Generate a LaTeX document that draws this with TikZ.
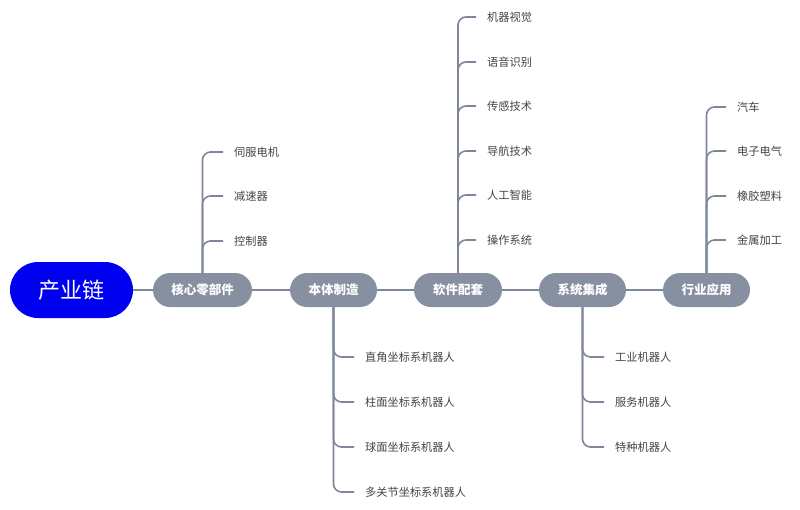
\documentclass[tikz,border=0pt]{standalone}
\usepackage{fontspec}
\setmainfont{Noto Sans CJK SC}
\usetikzlibrary{calc}
\definecolor{rootblue}{HTML}{0000F0}
\definecolor{catgray}{HTML}{8790A1}
\definecolor{linegray}{HTML}{7D8799}
\definecolor{leaftext}{HTML}{444444}
\begin{document}
\begin{tikzpicture}[x=1pt,y=-1pt,
  rootbox/.style={fill=rootblue,text=white,draw=none,minimum width=123pt,minimum height=56pt,rounded corners=28pt,font=\fontsize{22}{24}\selectfont,inner sep=0pt},
  catbox/.style={fill=catgray,text=white,draw=none,minimum height=34pt,rounded corners=17pt,font=\fontsize{12.5}{14}\selectfont\bfseries,inner sep=0pt},
  leaf/.style={anchor=west,text=leaftext,font=\fontsize{11.2}{13}\selectfont,inner sep=0pt},
  conn/.style={draw=linegray,line width=1.6pt},
  branch/.style={conn,rounded corners=8pt}]
\useasboundingbox (0,0) rectangle (800,509);

\node[rootbox] (root) at (71.5,290) {产业链};
\node[catbox,minimum width=99pt] (c1) at (202.5,290) {核心零部件};
\node[catbox,minimum width=87pt] (c2) at (333.5,290) {本体制造};
\node[catbox,minimum width=88pt] (c3) at (458,290) {软件配套};
\node[catbox,minimum width=87pt] (c4) at (582.5,290) {系统集成};
\node[catbox,minimum width=87pt] (c5) at (706.5,290) {行业应用};

\draw[conn] (root) -- (c1);
\draw[conn] (c1) -- (c2);
\draw[conn] (c2) -- (c3);
\draw[conn] (c3) -- (c4);
\draw[conn] (c4) -- (c5);

% core parts
\node[leaf] (a1) at (234,152) {伺服电机};
\node[leaf] (a2) at (234,196) {减速器};
\node[leaf] (a3) at (234,241) {控制器};
\foreach \n in {a1,a2,a3}
  \draw[branch] (c1.north) |- ([xshift=-11pt]\n.west);

% body
\node[leaf] (b1) at (365,357) {直角坐标系机器人};
\node[leaf] (b2) at (365,402) {柱面坐标系机器人};
\node[leaf] (b3) at (365,447) {球面坐标系机器人};
\node[leaf] (b4) at (365,492) {多关节坐标系机器人};
\foreach \n in {b1,b2,b3,b4}
  \draw[branch] (c2.south) |- ([xshift=-11pt]\n.west);

% software
\node[leaf] (s1) at (487,17) {机器视觉};
\node[leaf] (s2) at (487,62) {语音识别};
\node[leaf] (s3) at (487,106) {传感技术};
\node[leaf] (s4) at (487,151) {导航技术};
\node[leaf] (s5) at (487,195) {人工智能};
\node[leaf] (s6) at (487,240) {操作系统};
\foreach \n in {s1,s2,s3,s4,s5,s6}
  \draw[branch] (c3.north) |- ([xshift=-11pt]\n.west);

% system integration
\node[leaf] (t1) at (615,357) {工业机器人};
\node[leaf] (t2) at (615,402) {服务机器人};
\node[leaf] (t3) at (615,447) {特种机器人};
\foreach \n in {t1,t2,t3}
  \draw[branch] (c4.south) |- ([xshift=-11pt]\n.west);

% industry
\node[leaf] (i1) at (737,107) {汽车};
\node[leaf] (i2) at (737,151) {电子电气};
\node[leaf] (i3) at (737,196) {橡胶塑料};
\node[leaf] (i4) at (737,240) {金属加工};
\foreach \n in {i1,i2,i3,i4}
  \draw[branch] (c5.north) |- ([xshift=-11pt]\n.west);
\end{tikzpicture}
\end{document}
